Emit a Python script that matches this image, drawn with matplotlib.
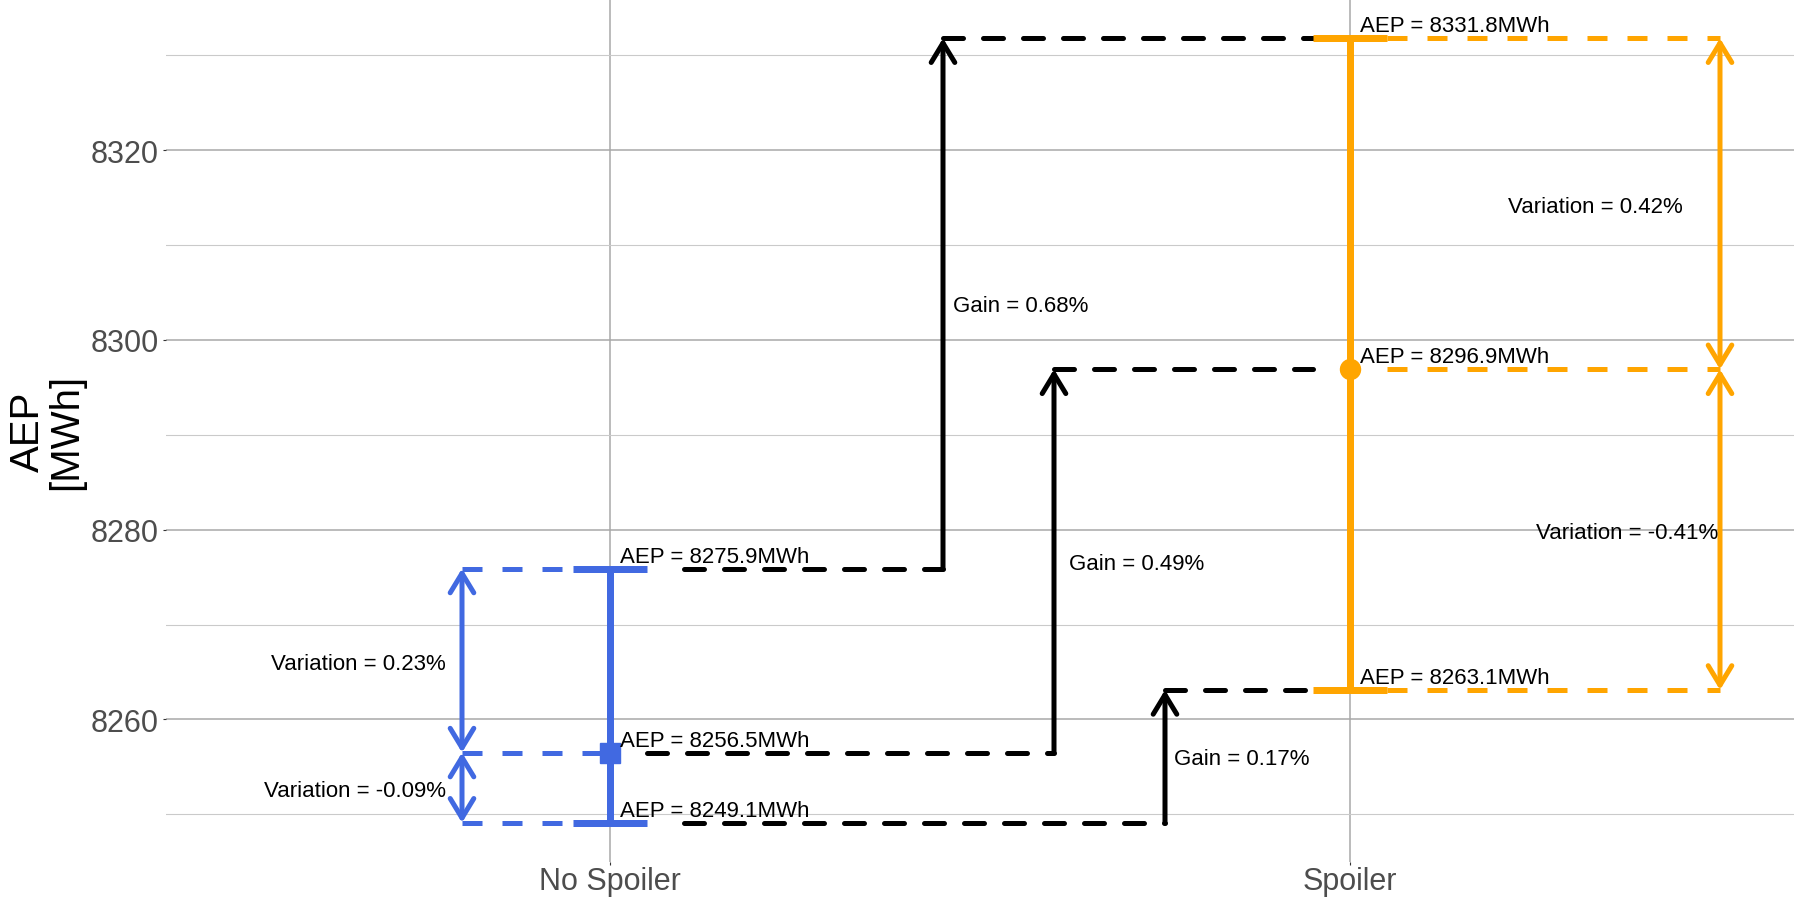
import matplotlib.pyplot as plt
from matplotlib.patches import FancyArrowPatch

plt.rcParams['font.family'] = ['Liberation Sans', 'DejaVu Sans']

groups = ['No Spoiler', 'Spoiler']
aep_min = [8249.1, 8263.1]
aep_mean = [8256.5, 8296.9]
aep_max = [8275.9, 8331.8]
var_up = ['0.23%', '0.42%']
var_down = ['-0.09%', '-0.41%']
gain_labels = ['0.68%', '0.49%', '0.17%']  # max, mean, min

blue = '#4169E1'
orange = '#FFA500'
colors = [blue, orange]

# layout (data coordinates on the x axis)
var_x = [0.8, 2.5]
var_text_x = [(0.778, 0.778), (2.449, 2.497)]
gain_x = [1.45, 1.6, 1.75]
gain_text_x = [1.463, 1.62, 1.762]
black_start = [1.1, 1.05, 1.1]

fig = plt.figure(figsize=(17.94, 9.04), dpi=100)
ax = fig.add_axes([166/1794, 41/904, 1628/1794, 863/904])

lo = min(aep_min)
hi = max(aep_max)
pad = 0.05*(hi - lo)
ax.set_xlim(0.4, 2.6)
ax.set_ylim(lo - pad, hi + pad)

ax.set_xticks([1, 2])
ax.set_xticklabels(groups)
ax.set_yticks([8260, 8280, 8300, 8320])
ax.set_yticks([8250, 8270, 8290, 8310, 8330], minor=True)
ax.grid(which='major', color='#A8A8A8', lw=1.1)
ax.grid(which='minor', axis='y', color='#CACACA', lw=0.8)
ax.set_axisbelow(True)
for s in ax.spines.values():
    s.set_visible(False)
ax.tick_params(which='major', length=2.2, width=0.8, color='#333333',
               labelsize=22, labelcolor='#4D4D4D')
ax.tick_params(axis='y', pad=2.9)
ax.tick_params(axis='x', pad=0.5)
ax.tick_params(which='minor', length=0)

fig.text(47/1794, 1 - 431.5/904, 'AEP\n[MWh]', rotation=90, ha='center',
         va='center', fontsize=29, multialignment='center', linespacing=1.0)

lw_line = 3.6
lw_bar = 5.04


def label(x, y, s, ha, dy):
    ax.annotate(s, (x, y), xytext=(0, dy), textcoords='offset points',
                ha=ha, va='baseline', fontsize=16, color='black', zorder=10)


def arrow(x, y0, y1, color, style):
    ax.add_patch(FancyArrowPatch((x, y0), (x, y1),
                                 arrowstyle=style + ',head_length=14,head_width=8.5',
                                 mutation_scale=1, lw=lw_line, color=color,
                                 shrinkA=0, shrinkB=0, capstyle='round', zorder=6))


for i, g in enumerate([1, 2]):
    c = colors[i]
    vals = [aep_max[i], aep_mean[i], aep_min[i]]

    # dashed guides to the variation arrows
    for v in vals:
        if i == 0:
            xs = [var_x[i], g]
        else:
            xs = [g + 0.05, var_x[i]]
        ln, = ax.plot(xs, [v, v], color=c, lw=lw_line, zorder=3,
                      dash_capstyle='butt')
        ln.set_dashes((4, 4))

    # error bar
    ax.plot([g, g], [aep_min[i], aep_max[i]], color=c, lw=lw_bar,
            solid_capstyle='butt', zorder=5)
    for v in [aep_min[i], aep_max[i]]:
        ax.plot([g - 0.05, g + 0.05], [v, v], color=c, lw=lw_bar,
                solid_capstyle='butt', zorder=5)
    ax.plot(g, aep_mean[i], marker='s' if i == 0 else 'o', ms=14.4,
            color=c, mec=c, zorder=7)

    # variation arrows
    arrow(var_x[i], aep_mean[i], aep_max[i], c, '<->')
    arrow(var_x[i], aep_min[i], aep_mean[i], c, '<->')
    label(var_text_x[i][0], (aep_mean[i] + aep_max[i])/2,
          'Variation = ' + var_up[i], 'right', -5.8)
    label(var_text_x[i][1], (aep_mean[i] + aep_min[i])/2,
          'Variation = ' + var_down[i], 'right', -5.8)

    for v in vals:
        label(g + 0.013, v, 'AEP = %.1fMWh' % v, 'left', 5.0)

# gain steps from No Spoiler to Spoiler
no_vals = [aep_max[0], aep_mean[0], aep_min[0]]
sp_vals = [aep_max[1], aep_mean[1], aep_min[1]]
for k in range(3):
    xg = gain_x[k]
    ln, = ax.plot([black_start[k], xg], [no_vals[k], no_vals[k]], color='black',
                  lw=lw_line, dash_capstyle='round', zorder=2)
    ln.set_dashes((4, 4))
    ln, = ax.plot([xg, 1.95], [sp_vals[k], sp_vals[k]], color='black',
                  lw=lw_line, dash_capstyle='round', zorder=2)
    ln.set_dashes((4, 4))
    arrow(xg, no_vals[k], sp_vals[k], 'black', '->')
    label(gain_text_x[k], (no_vals[k] + sp_vals[k])/2,
          'Gain = ' + gain_labels[k], 'left', -5.8)

fig.savefig('out.png', dpi=100)
